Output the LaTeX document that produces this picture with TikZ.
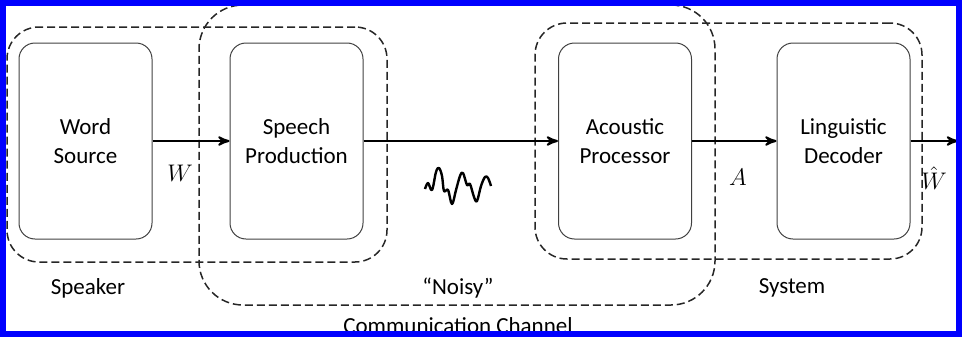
\documentclass[tikz,border=0pt]{standalone}
\usepackage{amsmath}
\usepackage{fontspec}
\setmainfont{Carlito}
\usetikzlibrary{arrows}

\begin{document}
\begin{tikzpicture}[x=0.5pt, y=-0.5pt]
\tikzset{stage/.style={draw=black!75, line width=0.5pt, rounded corners=8pt, minimum width=66.5pt, minimum height=98pt, align=center, font=\fontsize{11.5}{14.5}\selectfont}}
\tikzset{group/.style={draw=black!85, line width=0.75pt, dash pattern=on 4pt off 2pt, rounded corners=16pt}}
\tikzset{flow/.style={line width=1pt, ->, >=stealth'}}
\tikzset{grouplabel/.style={font=\fontsize{11.5}{14}\selectfont}}

\useasboundingbox (0,0) rectangle (962,337);

% dashed groups
\node[group, minimum width=190pt, minimum height=117.5pt] (speaker) at (197,144.5) {};
\node[group, rounded corners=22pt, minimum width=258pt, minimum height=150pt] (channel) at (457,155) {};
\node[group, minimum width=193.5pt, minimum height=118pt] (system) at (728.5,141) {};

% stages
\node[stage] (source) at (85.5,141) {Word\\Source};
\node[stage] (production) at (296.5,141) {Speech\\Production};
\node[stage] (processor) at (625,141) {Acoustic\\Processor};
\node[stage] (decoder) at (843.5,141) {Linguistic\\Decoder};
\coordinate (out) at (958,141);

\draw[flow] (source) -- (production);
\draw[flow] (production) -- (processor);
\draw[flow] (processor) -- (decoder);
\draw[flow] (decoder) -- (out);

\node (w) at (180,173) {\large $W$};
\node (a) at (738,177) {\large $A$};
\node[inner sep=1pt] (what) at (934,178) {\large $\hat{W}$};

% noisy waveform
\draw[line width=1.2pt, line join=round] plot[smooth, tension=0.6] coordinates {(425,189) (428,183) (432,190) (436,172) (439,168) (442,176) (444,191) (448,190) (452,204) (456,190) (460,176) (463,173) (467,185) (470,184) (474,197) (477,201) (481,186) (485,177) (488,178) (491,186)};

\node[grouplabel] (speakerlabel) at (88,288) {Speaker};
\node[grouplabel] (noisylabel) at (458,288) {“Noisy”};
\node[grouplabel] (systemlabel) at (792,288) {System};
\node[grouplabel] (channellabel) at (458,326) {Communication Channel};

% frame
\draw[blue, line width=3pt] (3,3) rectangle (959,334);
\end{tikzpicture}
\end{document}
